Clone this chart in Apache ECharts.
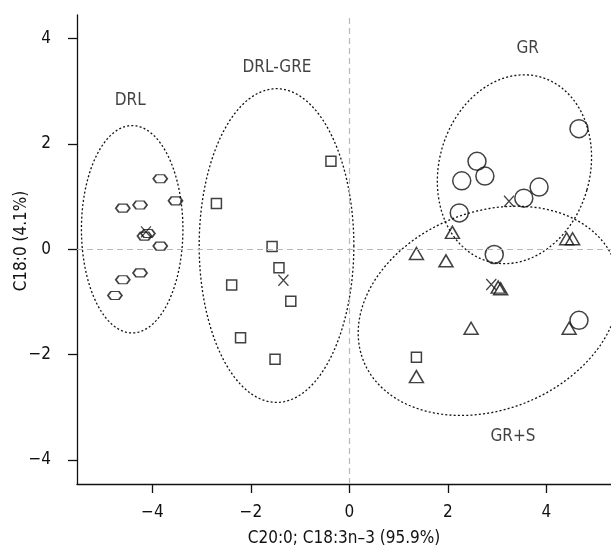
<!DOCTYPE html>
<html><head><meta charset="utf-8">
<script src="https://cdn.jsdelivr.net/npm/echarts@6/dist/echarts.min.js"></script>
<style>html,body{margin:0;padding:0;background:#fff}#c{width:611px;height:552px}</style>
</head><body><div id="c"></div>
<script>
// ---- data ----
const drlX = [-3.84, -3.53, -4.60, -4.25, -4.09, -4.16, -3.84, -4.25, -4.60, -4.76];
const drlY = [1.34, 0.92, 0.78, 0.84, 0.30, 0.25, 0.06, -0.45, -0.58, -0.88];

const drlGreX = [-0.375, -2.70, -1.57, -1.43, -2.39, -1.19, -2.21, -1.51, 1.36];
const drlGreY = [1.67, 0.87, 0.05, -0.35, -0.68, -0.99, -1.68, -2.09, -2.05];

const grX = [4.66, 2.59, 2.75, 2.28, 3.85, 3.54, 2.23, 2.94, 4.66];
const grY = [2.29, 1.67, 1.39, 1.30, 1.18, 0.97, 0.69, -0.10, -1.35];

const grsX = [2.09, 1.36, 1.96, 4.41, 4.53, 3.02, 3.07, 2.47, 4.46, 1.36];
const grsY = [0.32, -0.08, -0.22, 0.20, 0.20, -0.72, -0.75, -1.50, -1.50, -2.42];

const centroidX = [-4.13, -1.34, 3.24, 2.88];
const centroidY = [0.33, -0.59, 0.91, -0.67];

const groupNames = ['DRL', 'DRL-GRE', 'GR', 'GR+S'];
const groupLabelX = [-4.45, -1.47, 3.62, 3.32];
const groupLabelY = [2.82, 3.45, 3.81, -3.55];

// ellipse parameters (data units, rotation in degrees)
const ellCX = [-4.41, -1.48, 3.35, 2.83];
const ellCY = [0.38, 0.07, 1.52, -1.17];
const ellRX = [1.03, 1.57, 1.53, 2.74];
const ellRY = [1.97, 2.98, 1.82, 1.88];
const ellRot = [0, 0, -16, 21.7];

const xTicks = [-4, -2, 0, 2, 4];
const yTicks = [-4, -2, 0, 2, 4];
const xTitle = 'C20:0; C18:3n\u20133 (95.9%)';
const yTitle = 'C18:0 (4.1%)';

// ---- chart ----
const FONT = "'Liberation Sans Narrow', 'DejaVu Sans Condensed', Roboto, 'Liberation Sans', sans-serif";
const INK = '#111';
const zip = (a, b) => a.map((v, i) => [v, b[i]]);
const fmt = v => String(v).replace('-', '\u2212');

const markerStyle = { color: 'rgba(0,0,0,0)', borderColor: INK, borderWidth: 1.5 };

const chart = echarts.init(document.getElementById('c'), null, { renderer: 'canvas' });
chart.setOption({
  animation: false,
  backgroundColor: '#fff',
  grid: { left: 77, right: 0, top: 15, bottom: 67, containLabel: false },
  xAxis: {
    type: 'value', min: -5.53, max: 5.31,
    splitLine: { show: false },
    axisLine: { onZero: false, lineStyle: { color: INK, width: 1.3 } },
    axisTick: { show: true, customValues: xTicks, length: 9, lineStyle: { color: INK, width: 1.3 } },
    axisLabel: { customValues: xTicks, formatter: fmt, color: INK, fontSize: 17, fontFamily: FONT, margin: 20 },
    name: xTitle, nameLocation: 'middle', nameGap: 46,
    nameTextStyle: { color: INK, fontSize: 17, fontFamily: FONT }
  },
  yAxis: {
    type: 'value', min: -4.46, max: 4.45,
    splitLine: { show: false },
    axisLine: { onZero: false, lineStyle: { color: INK, width: 1.3 } },
    axisTick: { show: true, customValues: yTicks, length: 9, lineStyle: { color: INK, width: 1.3 } },
    axisLabel: { customValues: yTicks, formatter: fmt, color: INK, fontSize: 17, fontFamily: FONT, margin: 26 }
  },
  graphic: [{
    type: 'text', x: 22, y: 241, rotation: Math.PI / 2,
    style: { text: yTitle, fill: INK, font: '17px ' + FONT, textAlign: 'center', textVerticalAlign: 'middle', align: 'center', verticalAlign: 'middle' }
  }],
  series: [
    {
      type: 'custom', silent: true, clip: true,
      data: ellCX.map((v, i) => [v, ellCY[i], i]),
      encode: { x: 0, y: 1 },
      renderItem: function (params, api) {
        const i = params.dataIndex;
        const c = api.coord([ellCX[i], ellCY[i]]);
        const s = api.size([ellRX[i], ellRY[i]]);
        const th = ellRot[i] * Math.PI / 180;
        const pts = [];
        for (let k = 0; k <= 240; k++) {
          const t = k / 240 * Math.PI * 2;
          const lx = s[0] * Math.cos(t), ly = s[1] * Math.sin(t);
          pts.push([c[0] + lx * Math.cos(th) + ly * Math.sin(th), c[1] - lx * Math.sin(th) + ly * Math.cos(th)]);
        }
        return { type: 'polyline', shape: { points: pts }, style: { stroke: INK, fill: null, lineWidth: 1.3, lineDash: [2, 2.2] } };
      },
      markLine: {
        silent: true, symbol: 'none', label: { show: false },
        lineStyle: { color: '#b8b8b8', type: [6, 4], width: 1.2 },
        data: [{ xAxis: 0 }, { yAxis: 0 }]
      },
      z: 1
    },
    {
      type: 'scatter', silent: true, data: zip(drlX, drlY),
      symbol: 'path://M-7,0 L-4,-4 L4,-4 L7,0 L4,4 L-4,4 Z', symbolSize: [14, 8],
      itemStyle: markerStyle, z: 3
    },
    {
      type: 'scatter', silent: true, data: zip(drlGreX, drlGreY),
      symbol: 'rect', symbolSize: 10, itemStyle: markerStyle, z: 3
    },
    {
      type: 'scatter', silent: true, data: zip(grX, grY),
      symbol: 'circle', symbolSize: 18, itemStyle: markerStyle, z: 3
    },
    {
      type: 'scatter', silent: true, data: zip(grsX, grsY),
      symbol: 'triangle', symbolSize: [14, 12], itemStyle: markerStyle, z: 3
    },
    {
      type: 'scatter', silent: true, data: zip(centroidX, centroidY),
      symbol: 'path://M0,0 L10,11 M10,0 L0,11', symbolSize: [10, 11],
      itemStyle: { color: 'rgba(0,0,0,0)', borderColor: INK, borderWidth: 1.3 }, z: 4
    },
    {
      type: 'scatter', silent: true, symbolSize: 0,
      data: groupLabelX.map((v, i) => ({ value: [v, groupLabelY[i]], name: groupNames[i] })),
      label: { show: true, position: 'inside', formatter: p => p.name, color: INK, fontSize: 17, fontFamily: FONT },
      z: 5
    }
  ]
});
</script>
</body></html>
